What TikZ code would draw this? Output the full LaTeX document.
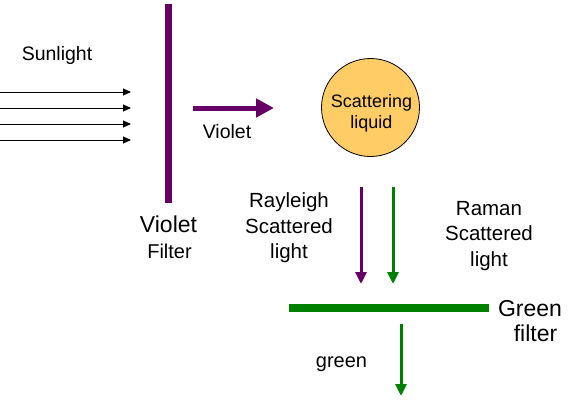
\documentclass[tikz,border=0pt]{standalone}
\usepackage{fontspec}
\setmainfont{Liberation Sans}
\usetikzlibrary{arrows.meta}
\definecolor{vio}{HTML}{660066}
\definecolor{grn}{HTML}{008000}
\definecolor{liq}{HTML}{FFCC66}
\begin{document}
\begin{tikzpicture}[x=1pt,y=-1pt,
  txt/.style={inner sep=0pt, anchor=base},
  sunray/.style={black, line width=1pt, -{Triangle[length=8pt,width=7pt]}},
  bigarrow/.style={vio, line width=5pt, -{Triangle[length=18pt,width=18pt]}},
  scatarrow/.style={line width=3pt, -{Triangle[length=12pt,width=11pt]}},
  filterbar/.style={line width=#1}]
\useasboundingbox (0,0) rectangle (570,402);
% sunlight
\node[txt, font=\fontsize{19.5}{23}\selectfont] (sun) at (57,60) {Sunlight};
\foreach \i/\y in {1/92,2/108,3/124,4/140}{
  \coordinate (s\i) at (0,\y);
  \coordinate (e\i) at (131,\y);
  \draw[sunray] (s\i) -- (e\i);
}
% violet filter
\coordinate (vf1) at (168.5,4);
\coordinate (vf2) at (168.5,203);
\draw[vio, line width=6.5pt] (vf1) -- (vf2);
\node[txt, font=\fontsize{23}{27}\selectfont] (vlab) at (168.5,232) {Violet};
\node[txt, font=\fontsize{20}{24}\selectfont] (flab) at (169.5,258) {Filter};
% violet arrow
\coordinate (va1) at (193,108);
\coordinate (va2) at (274,108);
\draw[bigarrow] (va1) -- (va2);
\node[txt, font=\fontsize{19.5}{23}\selectfont] (valab) at (227,138) {Violet};
% scattering liquid
\node[draw=black, line width=0.8pt, fill=liq, circle, minimum size=98pt, inner sep=0pt] (liquid) at (370.5,107.5) {};
\node[txt, font=\fontsize{18}{22}\selectfont] (l1) at (371.5,107) {Scattering};
\node[txt, font=\fontsize{18}{22}\selectfont] (l2) at (371.5,128.5) {liquid};
% scattered arrows
\coordinate (r1) at (361,187);
\coordinate (r2) at (361,284);
\coordinate (m1) at (393,187);
\coordinate (m2) at (393,284);
\draw[scatarrow, vio] (r1) -- (r2);
\draw[scatarrow, grn] (m1) -- (m2);
\node[txt, font=\fontsize{20.5}{25}\selectfont] (ray1) at (289,207.5) {Rayleigh};
\node[txt, font=\fontsize{20.5}{25}\selectfont] (ray2) at (289,233) {Scattered};
\node[txt, font=\fontsize{20.5}{25}\selectfont] (ray3) at (289,258.5) {light};
\node[txt, font=\fontsize{20.5}{25}\selectfont] (ram1) at (489,215) {Raman};
\node[txt, font=\fontsize{20.5}{25}\selectfont] (ram2) at (489,240.5) {Scattered};
\node[txt, font=\fontsize{20.5}{25}\selectfont] (ram3) at (489,266) {light};
% green filter
\coordinate (gf1) at (289,308);
\coordinate (gf2) at (489,308);
\draw[grn, line width=8pt] (gf1) -- (gf2);
\node[txt, font=\fontsize{23}{27}\selectfont] (glab) at (530,316.5) {Green};
\node[txt, font=\fontsize{23}{27}\selectfont] (gflab) at (535.5,341.5) {filter};
% green output
\coordinate (g1) at (401,324);
\coordinate (g2) at (401,396);
\draw[scatarrow, grn] (g1) -- (g2);
\node[txt, font=\fontsize{20}{24}\selectfont] (green) at (341.5,367) {green};
\end{tikzpicture}
\end{document}
